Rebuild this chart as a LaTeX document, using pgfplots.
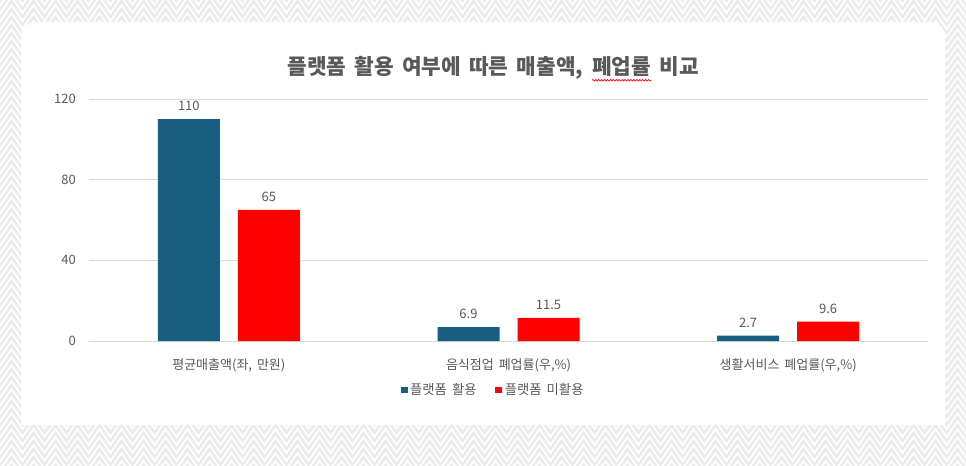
\documentclass[border=0pt]{standalone}
\usepackage{fontspec}
\setmainfont{Noto Sans CJK KR}[WordSpace=1.7]
\usepackage{pgfplots}
\pgfplotsset{compat=1.18}
\usetikzlibrary{decorations.pathmorphing}
\definecolor{barblue}{RGB}{24,94,128}
\definecolor{barred}{RGB}{255,0,0}
\definecolor{txt}{RGB}{89,89,89}
\definecolor{gridc}{RGB}{217,217,217}
\definecolor{zz}{RGB}{236,236,236}
\newcommand{\squig}[1]{\tikz[baseline=(s.base)]{\node[inner sep=0pt] (s) {#1};\draw[red, line width=0.5pt, decorate, decoration={snake, amplitude=0.6pt, segment length=2.2pt}] ([yshift=-2.4pt]s.south west) -- ([yshift=-2.4pt]s.south east);}}
\begin{document}
\begin{tikzpicture}
\useasboundingbox (0,0) rectangle (724.5pt,348.75pt);
\fill[white] (0,0) rectangle (724.5pt,348.75pt);
\begin{scope}
\clip (0,0) rectangle (724.5pt,348.75pt);
\foreach \r in {-3,...,60}{
  \draw[zz, line width=1.9pt, decorate, decoration={zigzag, segment length=16.5pt, amplitude=6pt}] (-12pt,\r*6pt) -- (740pt,\r*6pt);
}
\end{scope}
\fill[white, rounded corners=11pt] (15.75pt,30pt) rectangle (708.75pt,332.25pt);
\fill[white] (15.75pt,30pt) rectangle (708.75pt,60pt);
\node[text=txt, font=\fontsize{16pt}{19pt}\selectfont\bfseries] at (370pt, 297pt) {플랫폼 활용 여부에 따른 매출액, \squig{폐업률} 비교};
\begin{axis}[
  at={(66.75pt,93pt)}, anchor=south west,
  scale only axis, width=629.25pt, height=181.5pt,
  xmin=-0.5, xmax=2.5, ymin=0, ymax=120,
  ytick={0,40,80,120},
  xtick={0,1,2},
  xticklabels={평균매출액(좌{,} 만원), 음식점업 폐업률(우{,}\%), 생활서비스 폐업률(우{,}\%)},
  ybar, bar width=46.5pt,
  axis line style={draw=none}, tick style={draw=none},
  ymajorgrids, grid style={gridc, line width=0.75pt},
  /pgf/number format/assume math mode=true,
  xticklabel style={font=\fontsize{9.75pt}{12pt}\selectfont, text=txt, anchor=north, inner sep=0pt, yshift=-9pt},
  yticklabel style={font=\fontsize{9.75pt}{12pt}\selectfont, text=txt, anchor=east, inner sep=0pt, xshift=-9.75pt},
  nodes near coords,
  every node near coord/.append style={font=\fontsize{9.75pt}{12pt}\selectfont, text=txt, anchor=south, yshift=2.5pt},
  legend style={at={(0.482,-0.2025)}, anchor=center, draw=none, fill=none, legend columns=2,
    font=\fontsize{10pt}{12pt}\selectfont, text=txt,
    /tikz/every even column/.append style={column sep=12pt}},
  legend image code/.code={\fill[#1] (0pt,-2.6pt) rectangle (5.2pt,2.6pt);},
]
\addplot[fill=barblue, draw=none, bar shift=-30pt] coordinates {(0,110) (1,6.9) (2,2.7)};
\addplot[fill=barred, draw=none, bar shift=30pt] coordinates {(0,65) (1,11.5) (2,9.6)};
\legend{플랫폼 활용, 플랫폼 미활용}
\end{axis}
\end{tikzpicture}
\end{document}
